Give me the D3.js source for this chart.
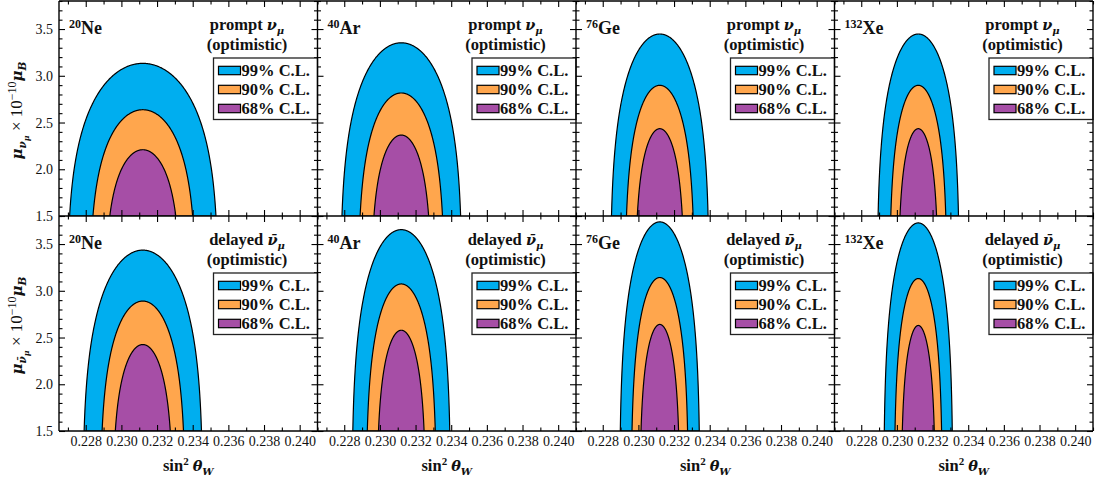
<!DOCTYPE html>
<html>
<head>
<meta charset="utf-8">
<script src="https://cdn.jsdelivr.net/npm/d3@7"></script>
<style>
  html, body { margin: 0; padding: 0; background: #fff; }
  svg { display: block; }
  text { font-family: "Liberation Serif", "Times New Roman", serif; fill: #111; }
  .gr { font-family: "DejaVu Serif", serif; font-style: italic; font-weight: bold; }
</style>
</head>
<body>
<div id="chart"></div>
<script>
// ---------------- data ----------------
const nuclei = ["Ne", "Ar", "Ge", "Xe"];
const massNumbers = ["20", "40", "76", "132"];
const channels = ["prompt", "delayed"];
const clLabels = ["99% C.L.", "90% C.L.", "68% C.L."];
const clColors = ["#00aeef", "#ffa64d", "#a64ea6"];
const bestFitSin2 = 0.2312;

// peak of each contour (mu in 1e-10 mu_B), order: 99%, 90%, 68%
const promptPeak = [
  [3.133, 2.637, 2.209],
  [3.353, 2.816, 2.366],
  [3.447, 2.898, 2.434],
  [3.447, 2.898, 2.434]
];
// half width in sin^2(theta_W) of each contour at mu = 1.5
const promptBaseHalfWidth = [
  [0.004105, 0.002796, 0.001851],
  [0.003329, 0.002311, 0.001534],
  [0.002709, 0.001868, 0.001262],
  [0.002255, 0.001542, 0.001026]
];
const delayedPeak = [
  [3.435, 2.890, 2.425],
  [3.654, 3.073, 2.578],
  [3.737, 3.142, 2.640],
  [3.726, 3.131, 2.629]
];
const delayedBaseHalfWidth = [
  [0.003292, 0.002283, 0.001542],
  [0.002720, 0.001907, 0.001279],
  [0.002215, 0.001559, 0.001054],
  [0.001907, 0.001307, 0.000897]
];

const xTicks = [0.228, 0.230, 0.232, 0.234, 0.236, 0.238, 0.240];
const yTicks = [1.5, 2.0, 2.5, 3.0, 3.5];
const xDomain = [0.2265, 0.241];
const yDomain = [1.5, 3.8];

// ---------------- layout ----------------
const W = 1098, H = 481;
const plotLeft = 59, plotRight = 1093, plotTop = 1, plotBottom = 431;
const colW = (plotRight - plotLeft) / 4;
const rowH = (plotBottom - plotTop) / 2;

const svg = d3.select("#chart").append("svg")
  .attr("width", W).attr("height", H);

const xMinor = d3.range(0.227, 0.2412, 0.001).filter(v => !xTicks.some(t => Math.abs(t - v) < 1e-6));
const yMinor = d3.range(1.5, 3.81, 0.1).filter(v => !yTicks.some(t => Math.abs(t - v) < 1e-6));

const peaks = { prompt: promptPeak, delayed: delayedPeak };
const widths = { prompt: promptBaseHalfWidth, delayed: delayedBaseHalfWidth };

function contourPoints(top, halfW, yMin) {
  // contour shape: ((x-c)/a)^2 + (mu/top)^4 = 1, cut at mu = yMin
  const a = halfW / Math.sqrt(1 - Math.pow(yMin / top, 4));
  const u0 = halfW / a;
  return d3.range(0, 301).map(i => {
    const u = -u0 + 2 * u0 * i / 300;
    return [bestFitSin2 + a * u, top * Math.pow(Math.max(0, 1 - u * u), 0.25)];
  });
}

channels.forEach((ch, r) => {
  nuclei.forEach((nuc, c) => {
    const x0 = plotLeft + c * colW, y0 = plotTop + r * rowH;
    const x = d3.scaleLinear().domain(xDomain).range([x0, x0 + colW]);
    const y = d3.scaleLinear().domain(yDomain).range([y0 + rowH, y0]);
    const g = svg.append("g");
    const clipId = `clip-${r}-${c}`;
    g.append("clipPath").attr("id", clipId).append("rect")
      .attr("x", x0).attr("y", y0).attr("width", colW).attr("height", rowH);

    const cg = g.append("g").attr("clip-path", `url(#${clipId})`);
    const line = d3.line().x(d => x(d[0])).y(d => y(d[1]));
    clLabels.forEach((lab, k) => {
      const pts = contourPoints(peaks[ch][c][k], widths[ch][c][k], yDomain[0]);
      cg.append("path")
        .attr("d", line(pts) + "Z")
        .attr("fill", clColors[k])
        .attr("stroke", "#000")
        .attr("stroke-width", 1.2)
        .attr("stroke-linejoin", "round");
    });

    // ticks (inward, all four sides)
    const tickStyle = sel => {
      sel.select(".domain").remove();
      sel.selectAll(".tick line").attr("stroke", "#000").attr("stroke-width", 1.1);
      sel.selectAll("text").attr("font-size", 14).attr("fill", "#1a1a1a")
        .style("font-family", "'Liberation Serif', serif");
    };
    const showX = r === 1, showY = c === 0;
    g.append("g").attr("transform", `translate(0,${y0 + rowH})`)
      .call(d3.axisBottom(x).tickValues(xTicks).tickSize(-6).tickPadding(5)
        .tickFormat(showX ? d3.format(".3f") : () => "")).call(tickStyle);
    g.append("g").attr("transform", `translate(0,${y0 + rowH})`)
      .call(d3.axisBottom(x).tickValues(xMinor).tickSize(-3.5).tickFormat(() => "")).call(tickStyle);
    g.append("g").attr("transform", `translate(0,${y0})`)
      .call(d3.axisTop(x).tickValues(xTicks).tickSize(-6).tickFormat(() => "")).call(tickStyle);
    g.append("g").attr("transform", `translate(0,${y0})`)
      .call(d3.axisTop(x).tickValues(xMinor).tickSize(-3.5).tickFormat(() => "")).call(tickStyle);
    g.append("g").attr("transform", `translate(${x0},0)`)
      .call(d3.axisLeft(y).tickValues(yTicks).tickSize(-6).tickPadding(6)
        .tickFormat(showY ? d3.format(".1f") : () => "")).call(tickStyle);
    g.append("g").attr("transform", `translate(${x0},0)`)
      .call(d3.axisLeft(y).tickValues(yMinor).tickSize(-3.5).tickFormat(() => "")).call(tickStyle);
    g.append("g").attr("transform", `translate(${x0 + colW},0)`)
      .call(d3.axisRight(y).tickValues(yTicks).tickSize(-6).tickFormat(() => "")).call(tickStyle);
    g.append("g").attr("transform", `translate(${x0 + colW},0)`)
      .call(d3.axisRight(y).tickValues(yMinor).tickSize(-3.5).tickFormat(() => "")).call(tickStyle);

    // legend
    const lg = g.append("g");
    lg.append("rect")
      .attr("x", x0 + 154.5).attr("y", y0 + 57)
      .attr("width", colW - 154.5).attr("height", 61.5)
      .attr("fill", "#fff").attr("stroke", "#222").attr("stroke-width", 1.3);
    clLabels.forEach((lab, k) => {
      const cy = y0 + 69.5 + k * 19;
      lg.append("rect")
        .attr("x", x0 + 159.5).attr("y", cy - 4.2)
        .attr("width", 22).attr("height", 8.4)
        .attr("fill", clColors[k]).attr("stroke", "#000").attr("stroke-width", 1.2);
      lg.append("text")
        .attr("x", x0 + 182.5).attr("y", cy + 5.5)
        .attr("font-size", 16.5).attr("font-weight", "bold")
        .text(lab);
    });

    // nucleus label
    const nl = g.append("text").attr("x", x0 + 10).attr("y", y0 + 33).attr("font-weight", "bold");
    nl.append("tspan").attr("font-size", 12).attr("dy", -6.5).text(massNumbers[c]);
    nl.append("tspan").attr("font-size", 18).attr("dy", 6.5).text(nuc);

    // channel title
    const t1 = g.append("text").attr("x", x0 + 188).attr("y", y0 + 29)
      .attr("text-anchor", "middle").attr("font-weight", "bold").attr("font-size", 16.5);
    t1.append("tspan").text(ch + " ");
    t1.append("tspan").attr("class", "gr").attr("font-size", 14.5).text(ch === "prompt" ? "ν" : "ν\u0304");
    t1.append("tspan").attr("class", "gr").attr("font-size", 10).attr("dy", 4).text("μ");
    g.append("text").attr("x", x0 + 188).attr("y", y0 + 48.5)
      .attr("text-anchor", "middle").attr("font-weight", "bold").attr("font-size", 16.5)
      .text("(optimistic)");

    // x title
    if (showX) {
      const xt = svg.append("text").attr("x", x0 + colW / 2).attr("y", 471)
        .attr("text-anchor", "middle").attr("font-weight", "bold").attr("font-size", 16.5);
      xt.append("tspan").text("sin");
      xt.append("tspan").attr("font-size", 11).attr("dy", -6).text("2");
      xt.append("tspan").attr("class", "gr").attr("font-size", 14.5).attr("dy", 6).attr("dx", 4).text("θ");
      xt.append("tspan").attr("class", "gr").attr("font-size", 10).attr("dy", 4).text("W");
    }
    // y title
    if (showY) {
      const yc = y0 + rowH / 2 + 2;
      const yt = svg.append("text")
        .attr("transform", `translate(22,${yc}) rotate(-90)`)
        .attr("text-anchor", "middle").attr("font-size", 17);
      yt.append("tspan").attr("class", "gr").attr("font-size", 15).text("μ");
      yt.append("tspan").attr("class", "gr").attr("font-size", 10.5).attr("dy", 4)
        .text(ch === "prompt" ? "ν" : "ν\u0304");
      yt.append("tspan").attr("class", "gr").attr("font-size", 8).attr("dy", 2.5).text("μ");
      yt.append("tspan").attr("dy", -6.5).text(" × 10");
      yt.append("tspan").attr("font-size", 12).attr("dy", -6.5).text("−10");
      yt.append("tspan").attr("class", "gr").attr("font-size", 15).attr("dy", 6.5).text("μ");
      yt.append("tspan").attr("class", "gr").attr("font-size", 10.5).attr("dy", 4).text("B");
    }
  });
});

// panel borders
svg.append("g").selectAll("line.v")
  .data(d3.range(0, 5)).join("line")
  .attr("x1", i => plotLeft + i * colW).attr("x2", i => plotLeft + i * colW)
  .attr("y1", plotTop).attr("y2", plotBottom)
  .attr("stroke", "#000").attr("stroke-width", 1.4);
svg.append("g").selectAll("line.h")
  .data(d3.range(0, 3)).join("line")
  .attr("x1", plotLeft).attr("x2", plotRight)
  .attr("y1", i => plotTop + i * rowH).attr("y2", i => plotTop + i * rowH)
  .attr("stroke", "#000").attr("stroke-width", 1.4);
</script>
</body>
</html>
